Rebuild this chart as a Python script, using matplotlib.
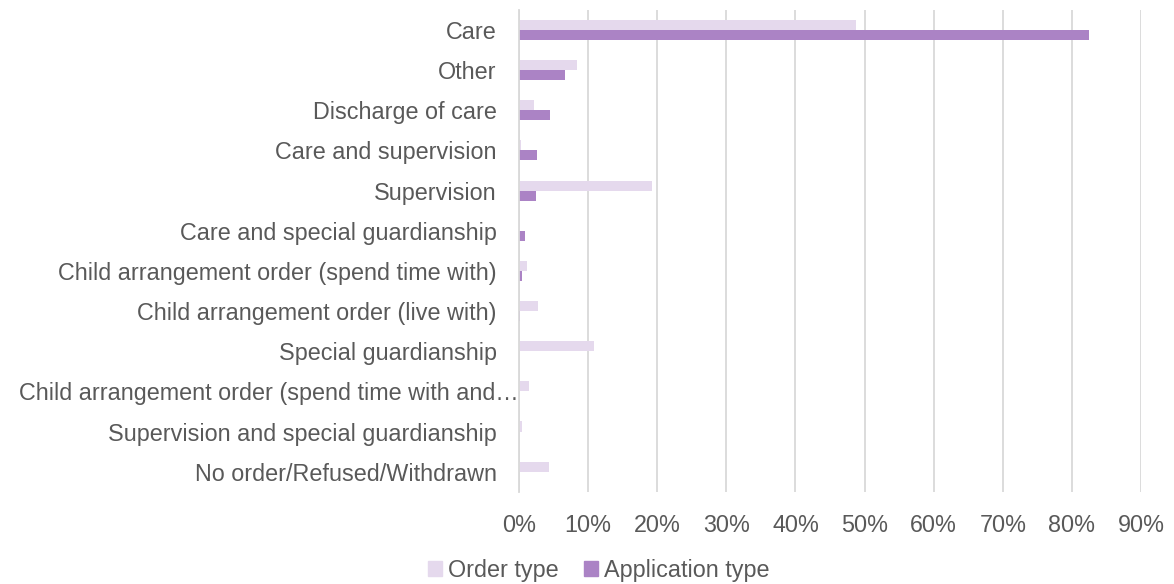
import matplotlib
matplotlib.use("Agg")
import matplotlib.pyplot as plt
from matplotlib.patches import Patch
from matplotlib.transforms import ScaledTranslation
import numpy as np

categories = [
    "Care",
    "Other",
    "Discharge of care",
    "Care and supervision",
    "Supervision",
    "Care and special guardianship",
    "Child arrangement order (spend time with)",
    "Child arrangement order (live with)",
    "Special guardianship",
    "Child arrangement order (spend time with and\u2026",
    "Supervision and special guardianship",
    "No order/Refused/Withdrawn",
]
order_type = [48.8, 8.4, 2.2, 0.3, 19.3, 0.2, 1.2, 2.8, 10.8, 1.5, 0.5, 4.3]
application_type = [82.5, 6.6, 4.5, 2.6, 2.5, 0.9, 0.5, 0.2, 0.0, 0.0, 0.0, 0.0]
x_ticks = [0, 10, 20, 30, 40, 50, 60, 70, 80, 90]

order_color = "#e5d9ed"
app_color = "#ab83c5"
text_color = "#595959"
grid_color = "#d9d9d9"

plt.rcParams["font.family"] = ["Liberation Sans", "DejaVu Sans"]
fs = 16.8

fig = plt.figure(figsize=(11.74, 5.84), dpi=100)
ax = fig.add_axes([0.442, 0.158, 0.530, 0.825])

y = np.arange(len(categories))
h = 0.25
ax.barh(y - h / 2, order_type, height=h, color=order_color, label="Order type")
ax.barh(y + h / 2, application_type, height=h, color=app_color, label="Application type")

ax.set_xlim(0, 90)
ax.set_ylim(len(categories) - 0.5, -0.5)
ax.set_xticks(x_ticks)
ax.set_xticklabels([f"{t}%" for t in x_ticks])
ax.set_yticks(y)
ax.set_yticklabels(categories)

ax.xaxis.grid(True, color=grid_color, linewidth=1.3)
ax.set_axisbelow(True)
for s in ["top", "right", "bottom"]:
    ax.spines[s].set_visible(False)
ax.spines["left"].set_color(grid_color)
ax.spines["left"].set_linewidth(1.3)

ax.tick_params(axis="both", length=0, labelsize=fs, labelcolor=text_color)
ax.tick_params(axis="x", pad=16)
ax.tick_params(axis="y", pad=16)

# the truncated label runs up to the axis line
long_label = ax.get_yticklabels()[9]
long_label.set_transform(long_label.get_transform()
                         + ScaledTranslation(0.22, 0, fig.dpi_scale_trans))

handles = [Patch(color=order_color, label="Order type"),
           Patch(color=app_color, label="Application type")]
fig.legend(handles=handles, loc="lower center", bbox_to_anchor=(0.51, -0.02),
           ncol=2, frameon=False, fontsize=fs, labelcolor=text_color, borderpad=0.1,
           handlelength=0.6, handleheight=0.6, handletextpad=0.25, columnspacing=1.1)

fig.savefig("out.png", dpi=100)
